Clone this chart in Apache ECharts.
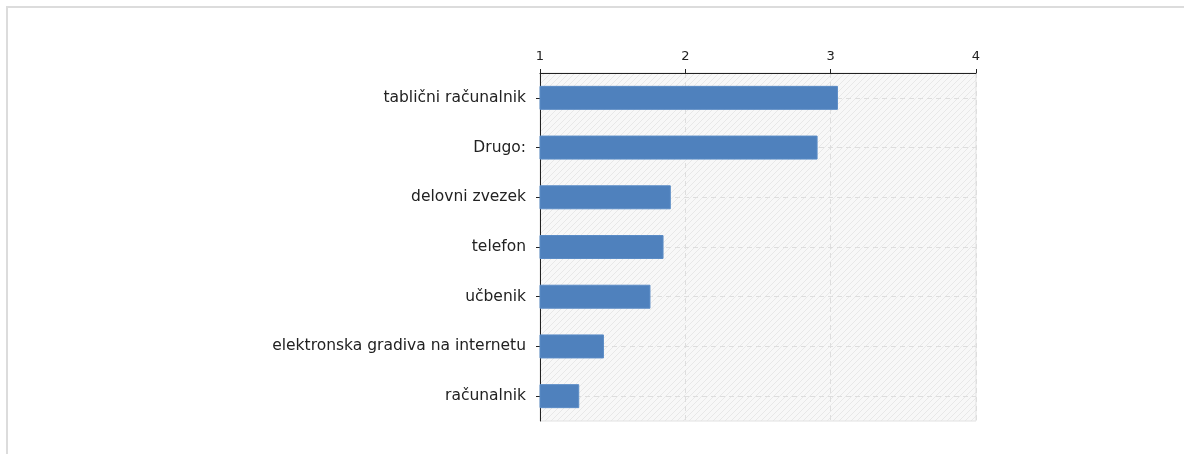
<!DOCTYPE html>
<html>
<head>
<meta charset="utf-8">
<script src="https://cdn.jsdelivr.net/npm/echarts@6/dist/echarts.min.js"></script>
<style>
  html, body { margin: 0; padding: 0; background: #fff; }
  #chart { width: 1187px; height: 454px; }
  #frame {
    position: absolute; left: 6px; top: 6px; width: 1176px; height: 460px;
    border-top: 2px solid #dcdcdc; border-left: 2px solid #dcdcdc;
    pointer-events: none;
  }
</style>
</head>
<body>
<div id="chart"></div>
<div id="frame"></div>
<script>
const categories = [
  'tablični računalnik',
  'Drugo:',
  'delovni zvezek',
  'telefon',
  'učbenik',
  'elektronska gradiva na internetu',
  'računalnik'
];
const values = [3.05, 2.91, 1.90, 1.85, 1.76, 1.44, 1.27];
const tickMin = 1;
const tickMax = 4;

// light diagonal hatch for the plot background
function makeHatch() {
  const c = document.createElement('canvas');
  c.width = 6;
  c.height = 6;
  const ctx = c.getContext('2d');
  ctx.fillStyle = '#f8f8f8';
  ctx.fillRect(0, 0, 6, 6);
  ctx.strokeStyle = '#e8e8e8';
  ctx.lineWidth = 1;
  ctx.beginPath();
  ctx.moveTo(0, 6);
  ctx.lineTo(6, 0);
  ctx.moveTo(-3, 3);
  ctx.lineTo(3, -3);
  ctx.moveTo(3, 9);
  ctx.lineTo(9, 3);
  ctx.stroke();
  return c;
}

const chart = echarts.init(document.getElementById('chart'));
const font = 'DejaVu Sans';

const option = {
  animation: false,
  grid: {
    left: 540,
    right: 211,
    top: 73,
    bottom: 33,
    show: true,
    backgroundColor: { image: makeHatch(), repeat: 'repeat' },
    borderColor: '#e2e2e2',
    borderWidth: 1
  },
  xAxis: {
    type: 'value',
    position: 'top',
    min: tickMin,
    max: tickMax,
    interval: 1,
    axisLine: { show: true, lineStyle: { color: '#222', width: 1 } },
    axisTick: { show: true, length: 4, lineStyle: { color: '#222' } },
    axisLabel: { color: '#222', fontFamily: font, fontSize: 13, margin: 10 },
    splitLine: { show: true, lineStyle: { color: '#dedede', type: [5, 4] } }
  },
  yAxis: {
    type: 'category',
    inverse: true,
    data: categories,
    axisLine: { show: true, lineStyle: { color: '#222', width: 1 } },
    axisTick: { show: true, alignWithLabel: true, length: 4, lineStyle: { color: '#222' } },
    axisLabel: { color: '#222', fontFamily: font, fontSize: 15.5, margin: 14 },
    splitLine: { show: true, alignWithLabel: true, lineStyle: { color: '#dedede', type: [5, 4] } }
  },
  series: [
    {
      type: 'bar',
      data: values,
      barWidth: 24,
      itemStyle: { color: '#4f81bd', borderColor: '#5b8cc6', borderWidth: 1 }
    }
  ]
};

chart.setOption(option);
</script>
</body>
</html>
